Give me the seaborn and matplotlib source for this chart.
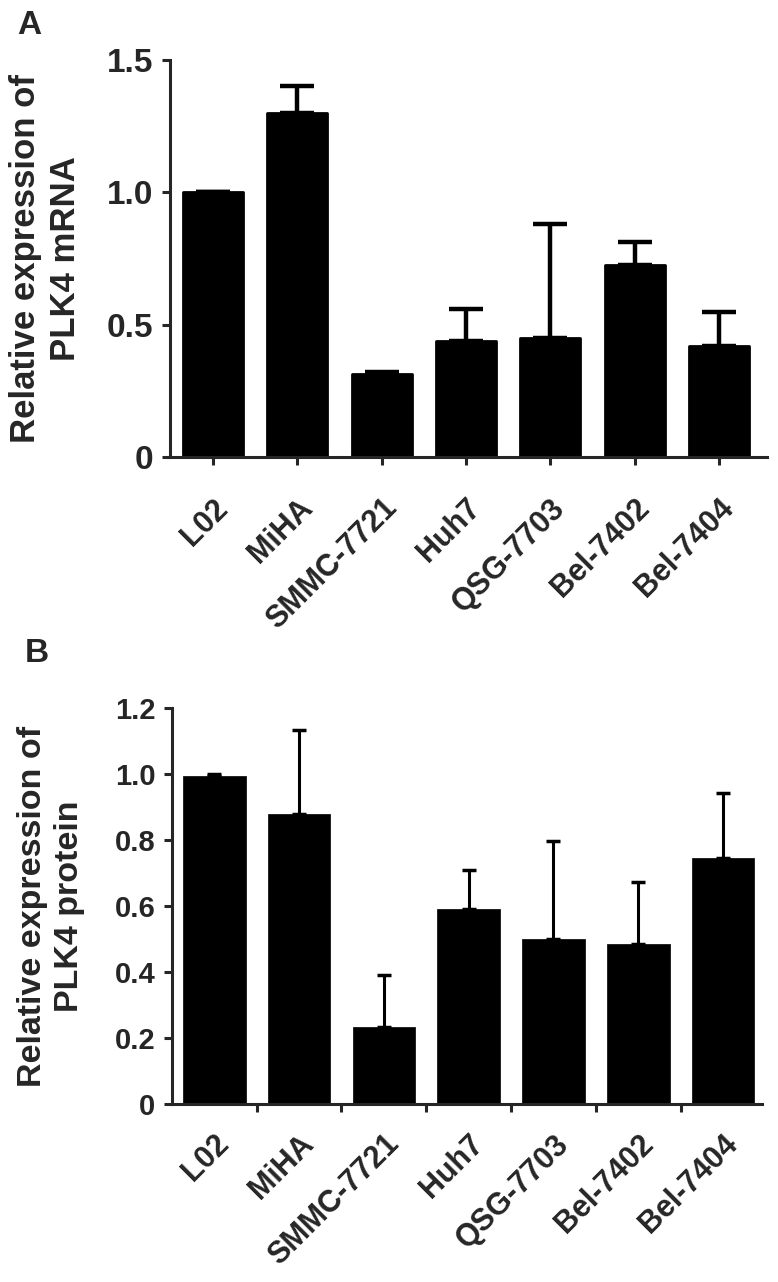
import matplotlib
matplotlib.use("Agg")  # no display
import matplotlib.pyplot as plt
import seaborn as sns
import numpy as np

# cell lines (same order in both panels)
cells = ["L02", "MiHA", "SMMC-7721", "Huh7", "QSG-7703", "Bel-7402", "Bel-7404"]

# panel A: PLK4 mRNA, mean and upper error
mrna_mean = [1.00, 1.30, 0.315, 0.44, 0.45, 0.725, 0.42]
mrna_err = [0.0, 0.10, 0.005, 0.12, 0.43, 0.087, 0.127]

# panel B: PLK4 protein, mean and upper error
protein_mean = [0.995, 0.88, 0.235, 0.59, 0.50, 0.485, 0.745]
protein_err = [0.005, 0.253, 0.155, 0.119, 0.297, 0.188, 0.197]

yticks_a = [0, 0.5, 1.0, 1.5]
yticklabels_a = ["0", "0.5", "1.0", "1.5"]
yticks_b = [0, 0.2, 0.4, 0.6, 0.8, 1.0, 1.2]
yticklabels_b = ["0", "0.2", "0.4", "0.6", "0.8", "1.0", "1.2"]

sns.set_style("ticks")
plt.rcParams['font.family'] = ['Liberation Sans', 'DejaVu Sans']
plt.rcParams['font.weight'] = 'bold'

fig = plt.figure(figsize=(7.78, 12.82), dpi=100)
axA = fig.add_axes([0.2185, 0.6435, 0.7674, 0.3097])
axB = fig.add_axes([0.221, 0.1388, 0.7584, 0.3089])


def draw_panel(ax, means, errs, width, lw, elw, cap, capthick):
    sns.barplot(x=cells, y=means, color="black", saturation=1, width=width,
                edgecolor="black", linewidth=lw, ax=ax)
    for p in ax.patches:
        p.set_joinstyle("round")
    n = len(cells)
    ax.errorbar(np.arange(n), means, yerr=[np.zeros(n), errs], fmt="none",
                ecolor="black", elinewidth=elw, capsize=cap, capthick=capthick,
                zorder=1)
    sns.despine(ax=ax)
    for s in ["left", "bottom"]:
        ax.spines[s].set_linewidth(2.2)
    ax.set_xlabel("")


# ---- panel A
draw_panel(axA, mrna_mean, mrna_err, 0.71, 2.0, 3.2, 12, 3.2)
axA.set_ylim(0, 1.5)
axA.set_xlim(-0.51, 6.57)
axA.set_yticks(yticks_a)
axA.set_yticklabels(yticklabels_a, fontsize=24, fontweight="bold")
axA.set_xticks(range(len(cells)))
axA.set_xticklabels(cells, rotation=45, ha="right", va="top",
                    rotation_mode="anchor", fontsize=22, fontweight="bold")
axA.tick_params(axis="y", direction="out", length=6, width=2.2, pad=6)
axA.tick_params(axis="x", direction="out", length=6, width=2.2, pad=20)
axA.set_ylabel("Relative expression of\nPLK4 mRNA", fontsize=25,
               fontweight="bold", linespacing=1.25)
axA.yaxis.set_label_coords(-0.148, 0.5)

# ---- panel B
draw_panel(axB, protein_mean, protein_err, 0.74, 0.5, 2.2, 5, 2.5)
axB.set_ylim(0, 1.2)
axB.set_xlim(-0.5, 6.46)
axB.set_yticks(yticks_b)
axB.set_yticklabels(yticklabels_b, fontsize=21, fontweight="bold")
axB.set_xticks(range(len(cells)))
axB.set_xticklabels(cells, rotation=45, ha="right", va="top",
                    rotation_mode="anchor", fontsize=22, fontweight="bold")
axB.set_xticks(np.arange(0.5, 6, 1), minor=True)
axB.tick_params(axis="x", which="major", length=0, pad=18)
axB.tick_params(axis="x", which="minor", direction="out", length=6, width=2.2)
axB.tick_params(axis="y", direction="out", length=6, width=2.2, pad=6)
axB.set_ylabel("Relative expression of\nPLK4 protein", fontsize=24.5,
               fontweight="bold", linespacing=1.25)
axB.yaxis.set_label_coords(-0.148, 0.5)

fig.text(0.022, 0.992, "A", fontsize=24, fontweight="bold", va="top")
fig.text(0.032, 0.502, "B", fontsize=24, fontweight="bold", va="top")

fig.savefig("out.png", dpi=100)
plt.close(fig)
